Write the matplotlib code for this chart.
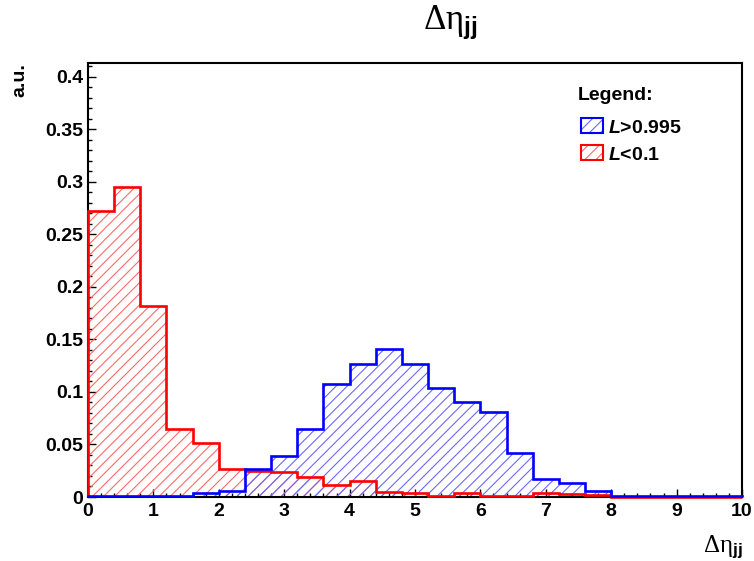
import numpy as np
import matplotlib
matplotlib.use("Agg")
import matplotlib.pyplot as plt
from matplotlib.patches import Rectangle
from matplotlib.ticker import MultipleLocator

plt.rcParams['font.family'] = ['Liberation Sans', 'DejaVu Sans']
plt.rcParams['mathtext.fontset'] = 'custom'
plt.rcParams['mathtext.rm'] = 'Liberation Serif'
plt.rcParams['mathtext.it'] = 'Liberation Serif:italic'
plt.rcParams['mathtext.bf'] = 'Liberation Sans:bold'
plt.rcParams['mathtext.bfit'] = 'Liberation Sans:italic:bold'
plt.rcParams['hatch.linewidth'] = 0.8

# delta eta_jj histograms, 25 bins of 0.4 from 0 to 10, normalised
edges = np.linspace(0, 10, 26)
sig = [0.0012, 0.0012, 0.0012, 0.0012, 0.004, 0.006, 0.027, 0.039, 0.065, 0.108,
       0.127, 0.141, 0.127, 0.104, 0.090, 0.081, 0.042, 0.017, 0.013, 0.0057,
       0.0012, 0.0012, 0.0012, 0.0012, 0.0012]
bkg = [0.272, 0.295, 0.182, 0.065, 0.051, 0.027, 0.025, 0.024, 0.019, 0.011,
       0.015, 0.005, 0.0035, 0.0012, 0.0035, 0.0012, 0.001, 0.0035, 0.003, 0.002,
       0.0, 0.0, 0.0, 0.0, 0.0]
labels = [r'$\mathbfit{L}$>0.995', r'$\mathbfit{L}$<0.1']
colors = ['#0000ff', '#ff0000']
hatch_colors = ['#6a6aff', '#ff6a6a']

fig = plt.figure(figsize=(7.54, 5.61), dpi=100)
ax = fig.add_axes([88/754, 1-497/561, (742-88)/754, (497-63)/561])

# red first, blue outline on top
for vals, c, hc in zip([bkg, sig], colors[::-1], hatch_colors[::-1]):
    ax.stairs(vals, edges, fill=True, facecolor='none', edgecolor=hc,
              hatch='///', linewidth=0, zorder=2)
    ax.stairs(vals, edges, color=c, linewidth=1.9, zorder=3, clip_on=False)

ax.set_xlim(0, 10)
ax.set_ylim(0, 0.413)
ax.xaxis.set_major_locator(MultipleLocator(1))
ax.xaxis.set_minor_locator(MultipleLocator(0.2))
ax.yaxis.set_minor_locator(MultipleLocator(0.01))
ax.set_yticks(np.arange(0, 0.41, 0.05))
ax.set_yticklabels(['0'] + ['%g' % v for v in np.arange(0.05, 0.41, 0.05)])
ax.tick_params(which='both', direction='in', width=1, labelsize=14)
ax.tick_params(which='major', length=6)
ax.tick_params(which='minor', length=3)
ax.tick_params(axis='x', pad=4)
for lab in ax.get_xticklabels() + ax.get_yticklabels():
    lab.set_fontweight('bold')
for sp in ax.spines.values():
    sp.set_linewidth(1.5)

fig.text(450/754, 1-30/561, r'$\mathrm{\Delta\eta}_{\mathbf{jj}}$',
         ha='center', va='baseline', fontsize=25)
fig.text(743/754, 1-552/561, r'$\mathrm{\Delta\eta}_{\mathbf{jj}}$',
         ha='right', va='baseline', fontsize=18)
fig.text(28/754, 1-63/561, 'a.u.', rotation=90, ha='right', va='top',
         fontsize=14, fontweight='bold')

# legend
fig.text(578/754, 1-100/561, 'Legend:', fontsize=14, fontweight='bold',
         va='baseline')
for i, (lab, c, hc) in enumerate(zip(labels, colors, hatch_colors)):
    ytop = 118 + i*27
    fig.add_artist(Rectangle((581/754, 1-(ytop+15)/561), 22/754, 15/561,
                             transform=fig.transFigure, facecolor='none',
                             edgecolor=hc, hatch='///', linewidth=0))
    fig.add_artist(Rectangle((581/754, 1-(ytop+15)/561), 22/754, 15/561,
                             transform=fig.transFigure, facecolor='none',
                             edgecolor=c, linewidth=1.5))
    fig.text(608/754, 1-(ytop+15)/561, lab, fontsize=14, fontweight='bold',
             va='baseline')

fig.savefig('out.png', dpi=100)
